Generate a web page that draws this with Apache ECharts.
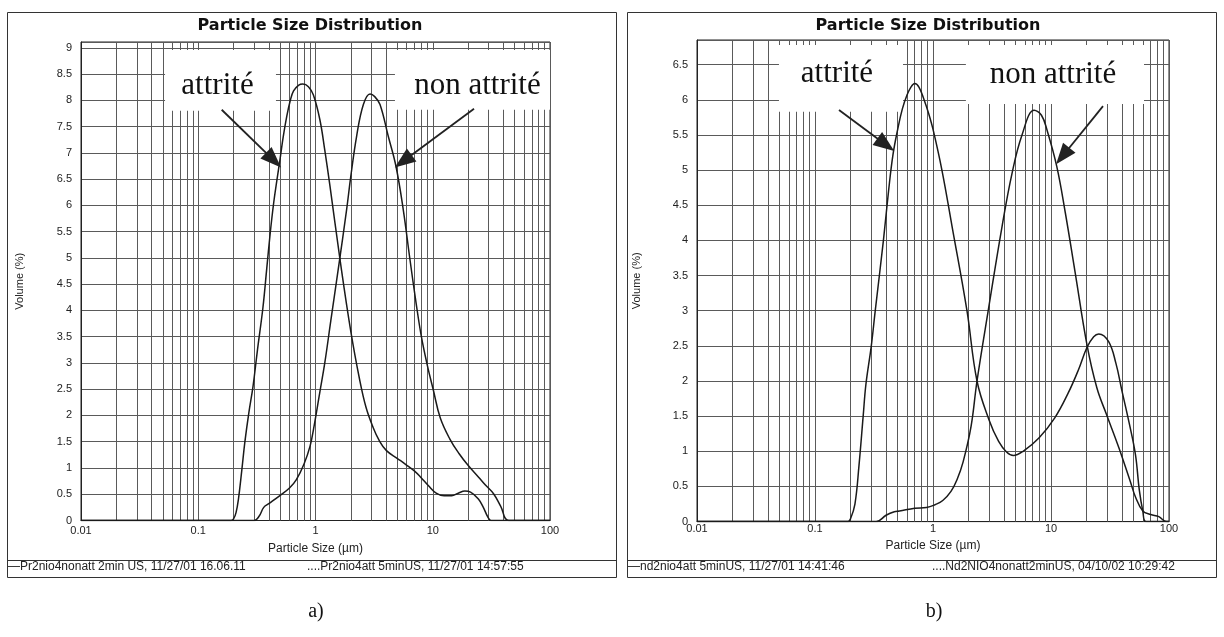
<!DOCTYPE html>
<html><head><meta charset="utf-8">
<script src="https://cdn.jsdelivr.net/npm/echarts@6/dist/echarts.min.js"></script>
<style>html,body{margin:0;padding:0;background:#fff}#c{width:1224px;height:637px}</style>
</head><body><div id="c"></div>
<script>
// ---------------- data ----------------
const chartTitle = 'Particle Size Distribution';
const xAxisName = 'Particle Size (µm)';
const yAxisName = 'Volume (%)';

const leftNonName = 'Pr2nio4nonatt 2min US, 11/27/01 16.06.11';
const leftAttName = 'Pr2nio4att 5minUS, 11/27/01 14:57:55';
const rightAttName = 'nd2nio4att 5minUS, 11/27/01 14:41:46';
const rightNonName = 'Nd2NIO4nonatt2minUS, 04/10/02 10:29:42';

// a) attrité
const leftAttX = [0.01,0.19,0.2,0.21,0.22,0.235,0.25,0.27,0.293,0.32,0.356,0.384,0.41,0.44,0.47,0.5,0.53,0.567,0.61,0.65,0.72,0.78,0.87,0.96,1.09,1.2,1.33,1.62,2.0,2.38,2.7,3.09,3.5,4.03,5.0,5.86,7.0,7.92,9.2,10.7,12.5,14.5,16.5,18.8,21,24.5,27,29.6,31.5,100];
const leftAttY = [0,0,0.03,0.15,0.4,0.95,1.5,2.05,2.55,3.25,4.05,4.8,5.45,6.05,6.5,6.9,7.3,7.68,8.0,8.18,8.29,8.31,8.26,8.1,7.63,7.05,6.36,4.96,3.6,2.68,2.15,1.78,1.52,1.33,1.18,1.07,0.94,0.82,0.66,0.52,0.47,0.47,0.52,0.56,0.54,0.41,0.25,0.06,0,0];
// a) non attrité
const leftNonX = [0.01,0.3,0.33,0.362,0.4,0.5,0.6,0.687,0.8,0.9,0.964,1.09,1.2,1.35,1.56,1.84,2.0,2.24,2.56,2.92,3.2,3.55,4.18,4.86,5.61,6.4,7.2,8.0,9.0,10.1,11.6,14,16.8,20,24.5,28,33,38,44.5,100];
const leftNonY = [0,0,0.08,0.25,0.32,0.48,0.62,0.78,1.08,1.42,1.75,2.45,3.0,3.8,4.77,5.91,6.55,7.31,7.92,8.12,8.07,7.92,7.31,6.74,5.91,4.96,4.15,3.5,2.95,2.49,1.95,1.55,1.27,1.05,0.83,0.68,0.51,0.27,0,0];
// b) attrité
const rightAttX = [0.01,0.19,0.2,0.218,0.236,0.256,0.27,0.3,0.324,0.38,0.42,0.458,0.505,0.55,0.6,0.65,0.7,0.76,0.84,0.92,1.01,1.19,1.45,1.94,2.36,2.98,3.6,4.2,4.8,5.8,7.9,10.8,14,17,20.2,23,25.4,30.8,35.5,39.8,46,52,56,60,64,100];
const rightAttY = [0,0,0.04,0.25,0.8,1.5,1.95,2.5,3.0,4.0,4.7,5.22,5.6,5.87,6.06,6.18,6.23,6.18,6.0,5.8,5.55,5.0,4.2,3.0,2.0,1.45,1.14,0.99,0.94,1.0,1.19,1.48,1.83,2.15,2.48,2.63,2.67,2.56,2.25,1.87,1.4,0.95,0.45,0.15,0,0];
// b) non attrité
const rightNonX = [0.01,0.33,0.4,0.47,0.52,0.7,0.88,1.04,1.21,1.42,1.6,1.8,2.1,2.36,2.97,3.85,4.67,5.68,7.2,8.3,9.25,11.2,13.2,16,20.2,24.5,29.6,37.6,47,52,60,70,82,95,100];
const rightNonY = [0,0,0.09,0.14,0.15,0.19,0.2,0.24,0.3,0.43,0.6,0.85,1.35,2.0,3.05,4.2,4.95,5.5,5.85,5.78,5.57,5.05,4.4,3.55,2.51,1.9,1.52,1.05,0.57,0.35,0.15,0.1,0.07,0,0];

const annotAtt = 'attrité';
const annotNon = 'non attrité';
const panelLabels = ['a)', 'b)'];

// ---------------- helpers ----------------
const pairs = (xs, ys) => xs.map((x, i) => [x, ys[i]]);
const minorX = [];
for (let e = -2; e < 2; e++) for (let m = 2; m <= 9; m++) minorX.push(+(m * Math.pow(10, e)).toPrecision(3));
const yFmt = v => { const r = Math.round(v * 2); return Math.abs(v * 2 - r) < 1e-6 ? String(r / 2) : ''; };

const SANS = '"Liberation Sans", Arial, sans-serif';
const SERIF = '"Liberation Serif", "Times New Roman", serif';
const INK = '#1a1a1a';
const GRIDC = '#5a5a5a';

function xAx(gi, gap, margin) {
  return {
    gridIndex: gi, type: 'log', logBase: 10, min: 0.01, max: 100,
    name: xAxisName, nameLocation: 'middle', nameGap: gap,
    nameTextStyle: { fontFamily: SANS, fontSize: 12, color: '#222' },
    axisLine: { show: true, lineStyle: { color: '#222', width: 1 } },
    axisTick: { show: false },
    axisLabel: { fontFamily: SANS, fontSize: 11, color: '#222', margin: margin },
    splitLine: { show: true, lineStyle: { color: GRIDC, width: 1 } }
  };
}
function yAx(gi, max, gap) {
  return {
    gridIndex: gi, type: 'value', min: 0, max: max, interval: 0.5,
    name: yAxisName, nameLocation: 'middle', nameGap: gap,
    nameTextStyle: { fontFamily: SANS, fontSize: 11, color: '#222' },
    axisLine: { show: true, lineStyle: { color: '#222', width: 1 } },
    axisTick: { show: false },
    axisLabel: { fontFamily: SANS, fontSize: 11, color: '#222', margin: 9, formatter: yFmt },
    splitLine: { show: true, lineStyle: { color: GRIDC, width: 1 } }
  };
}
function minorGrid(i) {
  return {
    type: 'line', xAxisIndex: i, yAxisIndex: i, data: [], silent: true,
    markLine: {
      z: 0.5, silent: true, symbol: 'none', animation: false,
      label: { show: false },
      lineStyle: { color: GRIDC, width: 1, type: 'solid' },
      data: minorX.map(v => ({ xAxis: v }))
    }
  };
}
function boxes(i, list) {
  return {
    type: 'line', xAxisIndex: i, yAxisIndex: i, data: [], silent: true,
    markArea: {
      z: 1, silent: true, animation: false,
      itemStyle: { color: '#ffffff', opacity: 1, borderWidth: 0 },
      label: { show: true, position: 'inside', fontFamily: SERIF, fontSize: 31, color: '#111' },
      data: list.map(b => [
        { name: b.text, coord: [b.x1, b.y1], label: { offset: b.off } },
        { coord: [b.x2, b.y2] }
      ])
    }
  };
}
function arrows(i, list) {
  return {
    type: 'line', xAxisIndex: i, yAxisIndex: i, data: [], silent: true,
    markLine: {
      z: 6, silent: true, animation: false,
      symbol: ['none', 'triangle'],
      label: { show: false },
      lineStyle: { color: '#222', width: 1.8, type: 'solid' },
      data: list.map(a => [
        { coord: a.from, symbol: 'none' },
        { coord: a.to, symbol: 'triangle', symbolSize: [16, 21] }
      ])
    }
  };
}
function curve(i, name, xs, ys) {
  return {
    type: 'line', name: name, xAxisIndex: i, yAxisIndex: i,
    data: pairs(xs, ys), z: 3,
    showSymbol: false, smooth: 0.4,
    lineStyle: { color: INK, width: 1.5 }, itemStyle: { color: INK },
    animation: false
  };
}

const chart = echarts.init(document.getElementById('c'), null, { renderer: 'canvas', width: 1224, height: 637 });

const legendBase = { icon: 'none', itemWidth: 0, itemHeight: 14, padding: 0, top: 560, selectedMode: false,
  textStyle: { fontFamily: SANS, fontSize: 12, color: '#222' } };

const titleStyle = { fontFamily: '"DejaVu Sans", sans-serif', fontWeight: 'bold', fontSize: 16, color: '#111' };

const option = {
  backgroundColor: '#ffffff',
  animation: false,
  title: [
    { text: chartTitle, left: 310, top: 18, textAlign: 'center', padding: 0, textStyle: titleStyle },
    { text: chartTitle, left: 928, top: 18, textAlign: 'center', padding: 0, textStyle: titleStyle }
  ],
  legend: [
    Object.assign({}, legendBase, { data: [leftNonName], left: 3, formatter: '—{name}' }),
    Object.assign({}, legendBase, { data: [leftAttName], left: 302, formatter: '....{name}' }),
    Object.assign({}, legendBase, { data: [rightAttName], left: 623, formatter: '—{name}' }),
    Object.assign({}, legendBase, { data: [rightNonName], left: 927, formatter: '....{name}' })
  ],
  grid: [
    { left: 81, top: 42, width: 469, height: 478.5, show: true, borderColor: '#222', borderWidth: 1, backgroundColor: 'transparent' },
    { left: 697, top: 40, width: 472, height: 481.6, show: true, borderColor: '#222', borderWidth: 1, backgroundColor: 'transparent' }
  ],
  xAxis: [xAx(0, 22, 5), xAx(1, 15, 2)],
  yAxis: [yAx(0, 9.11, 56), yAx(1, 6.85, 55)],
  series: [
    minorGrid(0), minorGrid(1),
    boxes(0, [
      { text: annotAtt, x1: 0.0521, y1: 8.96, x2: 0.46, y2: 7.8, off: [-3, 6] },
      { text: annotNon, x1: 4.76, y1: 8.96, x2: 100, y2: 7.82, off: [5, 6] }
    ]),
    boxes(1, [
      { text: annotAtt, x1: 0.0495, y1: 6.78, x2: 0.557, y2: 5.83, off: [-4, -4] },
      { text: annotNon, x1: 1.9, y1: 6.78, x2: 61.4, y2: 5.94, off: [-2, 0] }
    ]),
    curve(0, leftNonName, leftNonX, leftNonY),
    curve(0, leftAttName, leftAttX, leftAttY),
    curve(1, rightAttName, rightAttX, rightAttY),
    curve(1, rightNonName, rightNonX, rightNonY),
    arrows(0, [
      { from: [0.1585, 7.82], to: [0.4385, 6.86] },
      { from: [22.5, 7.84], to: [5.6, 6.84] }
    ]),
    arrows(1, [
      { from: [0.1597, 5.855], to: [0.398, 5.36] },
      { from: [27.6, 5.91], to: [12.56, 5.2] }
    ])
  ],
  graphic: [
    { type: 'rect', z: 10, silent: true, shape: { x: 7.5, y: 12.5, width: 609, height: 565 }, style: { fill: 'none', stroke: '#333', lineWidth: 1 } },
    { type: 'line', z: 10, silent: true, shape: { x1: 7.5, y1: 560.5, x2: 616.5, y2: 560.5 }, style: { stroke: '#333', lineWidth: 1 } },
    { type: 'rect', z: 10, silent: true, shape: { x: 627.5, y: 12.5, width: 589, height: 565 }, style: { fill: 'none', stroke: '#333', lineWidth: 1 } },
    { type: 'line', z: 10, silent: true, shape: { x1: 627.5, y1: 560.5, x2: 1216.5, y2: 560.5 }, style: { stroke: '#333', lineWidth: 1 } },
    { type: 'text', z: 10, silent: true, x: 316, y: 612, style: { text: panelLabels[0], font: '20px "Liberation Serif", serif', fill: '#111', textAlign: 'center', textVerticalAlign: 'middle', align: 'center', verticalAlign: 'middle' } },
    { type: 'text', z: 10, silent: true, x: 934, y: 612, style: { text: panelLabels[1], font: '20px "Liberation Serif", serif', fill: '#111', textAlign: 'center', textVerticalAlign: 'middle', align: 'center', verticalAlign: 'middle' } }
  ]
};
chart.setOption(option);
</script>
</body></html>
